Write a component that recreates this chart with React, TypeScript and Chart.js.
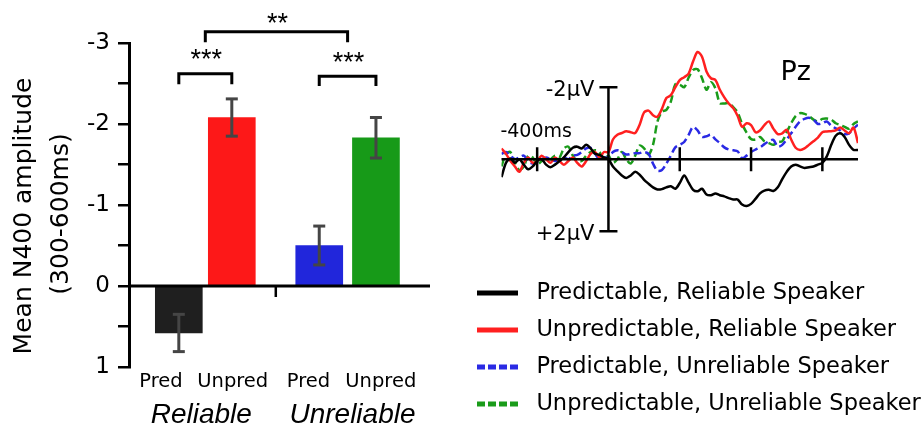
import { useEffect, useRef } from 'react';
import { Chart, registerables } from 'chart.js';

Chart.register(...registerables);

// ---------------- Bar chart data ----------------
const BAR_CATEGORIES = ['Pred', 'Unpred', 'Pred', 'Unpred'];
const BAR_GROUPS = ['Reliable', 'Unreliable'];
const BAR_POSITIONS = [1, 2, 3.65, 4.72];
const BAR_VALUES = [0.58, -2.08, -0.5, -1.83];
const BAR_ERRORS = [0.23, 0.23, 0.24, 0.25];
const BAR_COLORS = ['#1f1f1f', '#fd1818', '#2126db', '#179a18'];
const CATEGORY_LABEL_POS = [0.664, 2.018, 3.447, 4.811];
const GROUP_LABEL_POS = [1.424, 4.277];
const GROUP_SEPARATOR = 2.83;
const X_MIN = 0.06;
const X_MAX = 5.74;
const Y_MIN = -3;
const Y_MAX = 1;
const Y_STEP = 0.5;
const Y_TITLE = ['Mean N400 amplitude', '(300-600ms)'];

// significance brackets (data units)
const SIG_LABELS = ['***', '***', '**'];
const SIG_TOPS = [-2.62, -2.59, -3.14];
const SIG_LEGS = [-2.49, -2.47, -3.01];
const SIG_TEXT_Y = [-2.88, -2.84, -3.32];

// ---------------- ERP data ----------------
const ERP_TIMES = [
  -600, -575, -550, -525, -500, -475, -450, -425, -400, -375,
  -350, -325, -300, -275, -250, -225, -200, -175, -150, -125,
  -100, -75, -50, -25, 0, 25, 50, 75, 100, 125,
  150, 175, 200, 225, 250, 275, 300, 325, 350, 375,
  400, 425, 450, 475, 500, 525, 550, 575, 600, 625,
  650, 675, 700, 725, 750, 775, 800, 825, 850, 875,
  900, 925, 950, 975, 1000, 1025, 1050, 1075, 1100, 1125,
  1150, 1175, 1200, 1225, 1250, 1275, 1300, 1325, 1350, 1375,
  1400,
];
const ERP_PRED_RELIABLE = [
  0.5, 0.1, -0.02, 0.1, 0.0, 0.15, 0.28, 0.2, 0.05, 0.0,
  0.15, 0.22, 0.15, 0.05, -0.05, -0.2, -0.32, -0.35, -0.3, -0.4,
  -0.3, -0.15, -0.12, -0.05, 0.0, 0.2, 0.33, 0.45, 0.52, 0.45,
  0.35, 0.43, 0.57, 0.68, 0.78, 0.84, 0.83, 0.78, 0.75, 0.82,
  0.66, 0.45, 0.65, 0.85, 0.89, 0.82, 0.98, 1.0, 0.95, 1.0,
  1.03, 1.08, 1.12, 1.12, 1.26, 1.3, 1.24, 1.1, 0.95, 0.87,
  0.85, 0.88, 0.78, 0.55, 0.35, 0.2, 0.15, 0.2, 0.24, 0.22,
  0.2, 0.15, 0.1, -0.08, -0.4, -0.65, -0.72, -0.62, -0.4, -0.26,
  -0.26,
];
const ERP_UNPRED_RELIABLE = [
  -0.3, -0.15, 0.05, 0.2, 0.35, 0.1, -0.05, 0.1, 0.05, -0.1,
  0.0, 0.1, -0.05, 0.05, 0.15, 0.05, -0.05, 0.1, 0.2, 0.05,
  -0.15, -0.2, -0.05, -0.2, -0.2, -0.55, -0.68, -0.73, -0.78, -0.75,
  -0.73, -0.96, -1.3, -1.35, -1.22, -1.18, -1.4, -1.7, -1.78, -2.0,
  -2.2, -2.28, -2.38, -2.72, -2.98, -2.85, -2.44, -2.25, -2.2, -1.93,
  -1.72, -1.55, -1.42, -1.2, -0.9, -1.0, -0.95, -0.75, -0.8, -0.95,
  -1.05, -0.85, -0.7, -0.72, -0.82, -0.55, -0.32, -0.26, -0.3, -0.4,
  -0.5, -0.6, -0.75, -0.77, -0.78, -0.8, -0.88, -0.8, -0.72, -0.88,
  -0.45,
];
const ERP_PRED_UNRELIABLE = [
  -0.15, -0.2, -0.1, 0.0, -0.05, -0.1, 0.05, 0.12, 0.08, 0.0,
  -0.05, 0.0, 0.05, 0.0, -0.05, 0.0, -0.1, -0.12, -0.2, -0.3,
  -0.32, -0.15, 0.0, -0.05, -0.05, -0.2, -0.25, -0.2, -0.13, -0.15,
  -0.17, -0.17, -0.2, -0.15, 0.12, 0.32, 0.3, 0.12, -0.1, -0.33,
  -0.4, -0.48, -0.68, -0.9, -0.8, -0.62, -0.64, -0.68, -0.55, -0.45,
  -0.33, -0.27, -0.25, -0.22, -0.03, -0.1, -0.2, -0.27, -0.33, -0.42,
  -0.5, -0.54, -0.35, -0.4, -0.55, -0.72, -0.9, -1.05, -1.12, -1.15,
  -1.1, -0.98, -1.0, -1.05, -0.93, -0.86, -0.8, -0.7, -0.72, -0.85,
  -0.96,
];
const ERP_UNPRED_UNRELIABLE = [
  0.2, -0.15, -0.2, 0.1, 0.3, 0.2, -0.1, -0.05, 0.15, 0.05,
  -0.05, 0.0, -0.1, -0.05, -0.3, -0.35, -0.1, 0.05, 0.05, -0.1,
  -0.2, -0.25, -0.2, 0.0, -0.1, 0.1, 0.0, -0.2, 0.0, 0.12,
  -0.1, -0.38, -0.3, -0.13, -0.4, -1.05, -1.32, -1.37, -1.6, -2.08,
  -2.07, -2.0, -2.27, -2.48, -2.5, -2.25, -1.93, -2.14, -1.97, -1.56,
  -1.55, -1.56, -1.45, -1.3, -0.98, -0.74, -0.56, -0.55, -0.62, -0.5,
  -0.45, -0.4, -0.48, -0.5, -0.75, -1.0, -1.2, -1.28, -1.26, -1.2,
  -1.1, -1.05, -1.12, -1.13, -1.1, -1.0, -0.95, -0.9, -0.85, -0.98,
  -1.05,
];
const ERP_LABELS = [
  'Predictable, Reliable Speaker',
  'Unpredictable, Reliable Speaker',
  'Predictable, Unreliable Speaker',
  'Unpredictable, Unreliable Speaker',
];
const ERP_COLORS = ['#000000', '#ff2020', '#2a2ae4', '#1a9c1a'];
const ERP_DASHED = [false, false, true, true];
const ERP_TIME_TICKS = [-400, 400, 800, 1200];
const ERP_TIME_LABEL = '-400ms';
const ERP_VOLT_TICKS = [-2, 2];
const ERP_VOLT_LABELS = ['-2µV', '+2µV'];
const ERP_ELECTRODE = 'Pz';
const ERP_ELECTRODE_POS = { t: 1050, v: -2.2 };

const FONT = '"DejaVu Sans", sans-serif';

function seg(ctx: CanvasRenderingContext2D, x1: number, y1: number, x2: number, y2: number) {
  ctx.beginPath();
  ctx.moveTo(x1, y1);
  ctx.lineTo(x2, y2);
  ctx.stroke();
}

const barAnnotations = {
  id: 'barAnnotations',
  afterDatasetsDraw(chart: any) {
    const { ctx, chartArea } = chart;
    const xs = chart.scales.x;
    const ys = chart.scales.y;
    const px = (v: number) => xs.getPixelForValue(v);
    const py = (v: number) => ys.getPixelForValue(v);
    ctx.save();
    ctx.lineCap = 'butt';
    // zero line
    ctx.strokeStyle = '#000';
    ctx.lineWidth = 3;
    seg(ctx, chartArea.left, py(0), chartArea.right, py(0));
    // group separator tick
    ctx.lineWidth = 2.5;
    seg(ctx, px(GROUP_SEPARATOR), py(0), px(GROUP_SEPARATOR), py(0) + 11);
    // error bars
    ctx.strokeStyle = '#454545';
    ctx.lineWidth = 3;
    BAR_VALUES.forEach((v, i) => {
      const x = px(BAR_POSITIONS[i]);
      const a = py(v - BAR_ERRORS[i]);
      const b = py(v + BAR_ERRORS[i]);
      seg(ctx, x, a, x, b);
      seg(ctx, x - 6, a, x + 6, a);
      seg(ctx, x - 6, b, x + 6, b);
    });
    // significance brackets
    const spans = [
      [BAR_POSITIONS[0], BAR_POSITIONS[1]],
      [BAR_POSITIONS[2], BAR_POSITIONS[3]],
      [(BAR_POSITIONS[0] + BAR_POSITIONS[1]) / 2, (BAR_POSITIONS[2] + BAR_POSITIONS[3]) / 2],
    ];
    ctx.strokeStyle = '#000';
    ctx.lineWidth = 3;
    ctx.lineJoin = 'miter';
    ctx.fillStyle = '#000';
    ctx.font = '27px "Liberation Sans", Arial, sans-serif';
    ctx.textAlign = 'center';
    ctx.textBaseline = 'alphabetic';
    spans.forEach((s, i) => {
      const x1 = px(s[0]);
      const x2 = px(s[1]);
      const top = py(SIG_TOPS[i]);
      const leg = py(SIG_LEGS[i]);
      ctx.beginPath();
      ctx.moveTo(x1, leg);
      ctx.lineTo(x1, top);
      ctx.lineTo(x2, top);
      ctx.lineTo(x2, leg);
      ctx.stroke();
      ctx.fillText(SIG_LABELS[i], (x1 + x2) / 2 + 1, py(SIG_TEXT_Y[i]) + 15);
    });
    // category labels
    ctx.font = `19.5px ${FONT}`;
    BAR_CATEGORIES.forEach((c, i) => {
      ctx.fillText(c, px(CATEGORY_LABEL_POS[i]), chartArea.bottom + 20);
    });
    // group labels
    ctx.font = 'italic 28px "Liberation Sans", Arial, sans-serif';
    BAR_GROUPS.forEach((g, i) => {
      ctx.fillText(g, px(GROUP_LABEL_POS[i]), chartArea.bottom + 56);
    });
    // y title
    ctx.font = `25px ${FONT}`;
    ctx.textBaseline = 'middle';
    const cy = (chartArea.top + chartArea.bottom) / 2 + 11;
    const offsets = [105, 68];
    Y_TITLE.forEach((t, i) => {
      ctx.save();
      ctx.translate(chartArea.left - offsets[i], cy - i * 2);
      ctx.rotate(-Math.PI / 2);
      ctx.fillText(t, 0, 0);
      ctx.restore();
    });
    ctx.restore();
  },
};

const erpAxes = {
  id: 'erpAxes',
  afterDatasetsDraw(chart: any) {
    const { ctx } = chart;
    const xs = chart.scales.x;
    const ys = chart.scales.y;
    const x0 = xs.getPixelForValue(0);
    const y0 = ys.getPixelForValue(0);
    ctx.save();
    ctx.strokeStyle = '#000';
    ctx.lineWidth = 2.5;
    ctx.lineCap = 'butt';
    // time axis
    seg(ctx, xs.getPixelForValue(ERP_TIMES[0]), y0, xs.getPixelForValue(ERP_TIMES[ERP_TIMES.length - 1]), y0);
    // voltage axis
    const yTop = ys.getPixelForValue(ERP_VOLT_TICKS[0]);
    const yBot = ys.getPixelForValue(ERP_VOLT_TICKS[ERP_VOLT_TICKS.length - 1]);
    seg(ctx, x0, yTop, x0, yBot);
    ERP_VOLT_TICKS.forEach((v) => {
      const y = ys.getPixelForValue(v);
      seg(ctx, x0 - 9, y, x0 + 9, y);
    });
    ERP_TIME_TICKS.forEach((t) => {
      const x = xs.getPixelForValue(t);
      seg(ctx, x, y0 - 12, x, y0 + 12);
    });
    ctx.fillStyle = '#000';
    ctx.textBaseline = 'alphabetic';
    ctx.font = `21px ${FONT}`;
    ctx.textAlign = 'right';
    ERP_VOLT_TICKS.forEach((v, i) => {
      ctx.fillText(ERP_VOLT_LABELS[i], x0 - 14, ys.getPixelForValue(v) + 9);
    });
    ctx.font = `19px ${FONT}`;
    ctx.textAlign = 'center';
    ctx.fillText(ERP_TIME_LABEL, xs.getPixelForValue(ERP_TIME_TICKS[0]) - 1, y0 - 22.5);
    ctx.font = `27px ${FONT}`;
    ctx.fillText(ERP_ELECTRODE, xs.getPixelForValue(ERP_ELECTRODE_POS.t), ys.getPixelForValue(ERP_ELECTRODE_POS.v));
    ctx.restore();
  },
};

export default function App() {
  const barRef = useRef<HTMLCanvasElement>(null);
  const erpRef = useRef<HTMLCanvasElement>(null);

  useEffect(() => {
    const barChart = new Chart(barRef.current as HTMLCanvasElement, {
      type: 'bar',
      data: {
        datasets: [
          {
            data: BAR_POSITIONS.map((p, i) => ({ x: p, y: BAR_VALUES[i] })),
            backgroundColor: BAR_COLORS,
            borderWidth: 0,
            barThickness: 47,
          } as any,
        ],
      },
      options: {
        responsive: false,
        animation: false,
        layout: { padding: { left: 0, right: 10, top: 43, bottom: 60 } },
        plugins: { legend: { display: false }, tooltip: { enabled: false } },
        scales: {
          x: { type: 'linear', min: X_MIN, max: X_MAX, offset: false, display: false },
          y: {
            type: 'linear',
            min: Y_MIN,
            max: Y_MAX,
            reverse: true,
            ticks: {
              stepSize: Y_STEP,
              autoSkip: false,
              padding: 8,
              color: '#000',
              font: { family: FONT, size: 23 },
              callback: (v: any) => (Number.isInteger(Number(v)) ? String(v) : ''),
            },
            grid: {
              drawOnChartArea: false,
              drawTicks: true,
              tickLength: 11,
              tickColor: '#000',
              tickWidth: 2.5,
              color: '#000',
              lineWidth: 2.5,
            },
            border: { display: true, color: '#000', width: 3 },
            afterFit: (s: any) => {
              s.width = 129;
            },
          } as any,
        },
      },
      plugins: [barAnnotations],
    });

    const series = [ERP_PRED_RELIABLE, ERP_UNPRED_RELIABLE, ERP_PRED_UNRELIABLE, ERP_UNPRED_UNRELIABLE];
    const erpChart = new Chart(erpRef.current as HTMLCanvasElement, {
      type: 'line',
      data: {
        datasets: series.map((vals, i) => ({
          label: ERP_LABELS[i],
          data: ERP_TIMES.map((t, j) => ({ x: t, y: vals[j] })),
          borderColor: ERP_COLORS[i],
          backgroundColor: ERP_COLORS[i],
          borderWidth: 2.5,
          borderDash: ERP_DASHED[i] ? [8, 4] : [],
          borderCapStyle: 'butt',
          pointRadius: 0,
          tension: 0.3,
          fill: false,
        })) as any,
      },
      options: {
        responsive: false,
        animation: false,
        layout: { padding: { left: 2.5, right: 0, top: 33.25, bottom: 1.75 } },
        scales: {
          x: { type: 'linear', min: ERP_TIMES[0], max: ERP_TIMES[ERP_TIMES.length - 1], display: false },
          y: {
            type: 'linear',
            position: 'left',
            min: -3.5,
            max: 3,
            reverse: true,
            display: true,
            ticks: { display: false },
            grid: { display: false },
            border: { display: false },
            afterFit: (s: any) => {
              s.width = 39;
            },
          } as any,
          yRight: {
            type: 'linear',
            position: 'right',
            min: -3.5,
            max: 3,
            display: true,
            ticks: { display: false },
            grid: { display: false },
            border: { display: false },
            afterFit: (s: any) => {
              s.width = 66;
            },
          } as any,
        },
        plugins: {
          tooltip: { enabled: false },
          legend: {
            display: true,
            position: 'bottom',
            align: 'start',
            onClick: () => {},
            labels: {
              usePointStyle: true,
              pointStyleWidth: 41,
              padding: 14.5,
              color: '#000',
              font: { family: FONT, size: 22.5 },
              generateLabels: (chart: any) =>
                chart.data.datasets.map((ds: any, i: number) => ({
                  text: ' ' + ds.label,
                  fillStyle: ds.borderColor,
                  strokeStyle: ds.borderColor,
                  fontColor: '#000',
                  lineWidth: 5,
                  lineDash: ERP_DASHED[i] ? [8, 3] : [],
                  lineCap: 'butt',
                  pointStyle: 'line',
                  hidden: false,
                  datasetIndex: i,
                })),
            },
          } as any,
        },
      },
      plugins: [erpAxes],
    });

    return () => {
      barChart.destroy();
      erpChart.destroy();
    };
  }, []);

  return (
    <div style={{ position: 'absolute', left: 0, top: 0, width: 924, height: 427, background: '#fff' }}>
      <canvas ref={barRef} width={440} height={427} style={{ position: 'absolute', left: 0, top: 0 }} />
      <canvas ref={erpRef} width={464} height={427} style={{ position: 'absolute', left: 460, top: 0 }} />
    </div>
  );
}
